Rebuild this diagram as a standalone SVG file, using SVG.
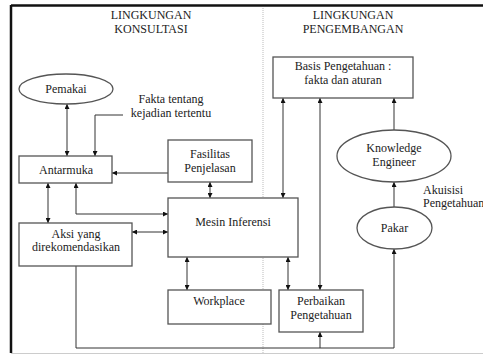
<svg xmlns="http://www.w3.org/2000/svg" width="483" height="355" viewBox="0 0 483 355" font-family="Liberation Serif, Times New Roman, serif" font-size="12">
<style>
text{fill:#222;text-anchor:middle}
.box{fill:#fff;stroke:#555;stroke-width:1.3}
.c{fill:none;stroke:#333;stroke-width:1}
.ab{marker-start:url(#ah);marker-end:url(#ah)}
.ae{marker-end:url(#ah)}
</style>
<defs>
<marker id="ah" viewBox="0 0 10 10" refX="10" refY="5" markerWidth="5" markerHeight="5" markerUnits="userSpaceOnUse" orient="auto-start-reverse">
<path d="M0,0 L10,5 L0,10 z" fill="#111"/>
</marker>
</defs>
<rect width="483" height="355" fill="#fff"/>
<g id="frame">
<line x1="11" y1="5.5" x2="483" y2="5.5" stroke="#111" stroke-width="2.5"/>
<line x1="11" y1="5" x2="11" y2="353" stroke="#111" stroke-width="2.5"/>
<line x1="11" y1="353.5" x2="483" y2="353.5" stroke="#ccc" stroke-width="1"/>
<line x1="263" y1="8" x2="263" y2="353" stroke="#bbb" stroke-width="1" stroke-dasharray="1,1"/>
</g>
<g id="headers">
<text x="151" y="19">LINGKUNGAN</text>
<text x="151" y="33">KONSULTASI</text>
<text x="353" y="19">LINGKUNGAN</text>
<text x="353" y="33">PENGEMBANGAN</text>
</g>
<g id="connectors">
<line class="c ab" x1="67" y1="104" x2="67" y2="156"/>
<path class="c ae" d="M123,115 H95 V156"/>
<path class="c ae" d="M168,173 H112"/>
<line class="c ab" x1="48" y1="183" x2="48" y2="223"/>
<path class="c ab" d="M76,183 V214 H168"/>
<line class="c ab" x1="132" y1="232" x2="168" y2="232"/>
<line class="c ab" x1="210" y1="182" x2="210" y2="198"/>
<line class="c ab" x1="187" y1="257" x2="187" y2="290"/>
<line class="c ab" x1="283" y1="98" x2="283" y2="198"/>
<line class="c ab" x1="320" y1="98" x2="320" y2="290"/>
<line class="c ab" x1="288" y1="257" x2="288" y2="290"/>
<path class="c ae" d="M76,266 V348 H394 V249"/>
<line class="c ae" x1="320" y1="348" x2="320" y2="332"/>
<line class="c ae" x1="394" y1="207" x2="394" y2="182"/>
<line class="c ae" x1="394" y1="130" x2="394" y2="98"/>
</g>
<g id="fakta">
<text x="171" y="103">Fakta tentang</text>
<text x="171" y="117">kejadian tertentu</text>
</g>
<g id="akuisisi">
<text x="423" y="194" style="text-anchor:start">Akuisisi</text>
<text x="423" y="207" style="text-anchor:start">Pengetahuan</text>
</g>
<g id="pemakai">
<ellipse class="box" cx="66" cy="89" rx="47" ry="15"/>
<text x="66" y="93">Pemakai</text>
</g>
<g id="antarmuka">
<rect class="box" x="19" y="156" width="93" height="27"/>
<text x="66" y="174">Antarmuka</text>
</g>
<g id="fasilitas">
<rect class="box" x="168" y="140" width="84" height="42"/>
<text x="210" y="158">Fasilitas</text>
<text x="210" y="172">Penjelasan</text>
</g>
<g id="aksi">
<rect class="box" x="19" y="223" width="113" height="43"/>
<text x="76" y="238">Aksi yang</text>
<text x="76" y="251">direkomendasikan</text>
</g>
<g id="mesin">
<rect class="box" x="168" y="198" width="130" height="59"/>
<text x="233" y="226">Mesin Inferensi</text>
</g>
<g id="workplace">
<rect class="box" x="168" y="290" width="103" height="34"/>
<text x="219" y="305">Workplace</text>
</g>
<g id="basis">
<rect class="box" x="273" y="57" width="140" height="41"/>
<text x="343" y="70">Basis Pengetahuan :</text>
<text x="343" y="84">fakta dan aturan</text>
</g>
<g id="ke">
<ellipse class="box" cx="394" cy="156" rx="57" ry="26"/>
<text x="394" y="152">Knowledge</text>
<text x="394" y="166">Engineer</text>
</g>
<g id="pakar">
<ellipse class="box" cx="394.5" cy="228" rx="37.5" ry="21"/>
<text x="394.5" y="232">Pakar</text>
</g>
<g id="perbaikan">
<rect class="box" x="279" y="290" width="84" height="42"/>
<text x="321" y="305">Perbaikan</text>
<text x="321" y="319">Pengetahuan</text>
</g>
</svg>
